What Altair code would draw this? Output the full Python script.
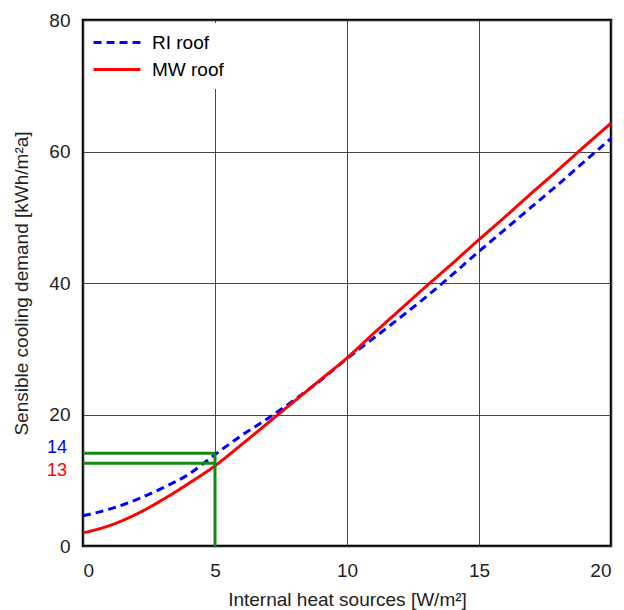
import altair as alt
import pandas as pd

x_vals = list(range(0, 21))
ri_roof = [4.6, 5.6, 7.0, 8.8, 10.9, 13.9, 16.8, 19.4, 22.2, 25.2, 28.5,
           31.6, 34.7, 37.9, 41.3, 44.8, 48.2, 51.6, 55.0, 58.5, 62.0]
mw_roof = [2.0, 3.1, 4.8, 7.0, 9.5, 12.2, 15.4, 18.7, 22.0, 25.3, 28.6,
           32.3, 35.9, 39.5, 43.0, 46.6, 50.1, 53.7, 57.2, 60.8, 64.3]
series = ["RI roof", "MW roof"]
colors = ["#0000ff", "#ff0000"]

marker_x = 5
marker_vals = [14.1, 12.6]
marker_labels = ["14", "13"]

rows = []
for name, vals in zip(series, [ri_roof, mw_roof]):
    for xv, yv in zip(x_vals, vals):
        rows.append({"x": xv, "y": yv, "series": name})
df = pd.DataFrame(rows)

font = "Liberation Sans"
fs = 19

xs = alt.Scale(domain=[0, 20], nice=False)
ys = alt.Scale(domain=[0, 80], nice=False)

lines = alt.Chart(df).mark_line(strokeWidth=3, interpolate="monotone").encode(
    x=alt.X("x:Q", scale=xs, title="Internal heat sources [W/m²]",
            axis=alt.Axis(values=[0, 5, 10, 15, 20])),
    y=alt.Y("y:Q", scale=ys, title="Sensible cooling demand [kWh/m²a]",
            axis=alt.Axis(values=[0, 20, 40, 60, 80])),
    color=alt.Color("series:N", scale=alt.Scale(domain=series, range=colors),
                    legend=alt.Legend(title=None, orient="top-left", offset=3,
                                      fillColor="white", padding=6,
                                      symbolType="stroke", symbolSize=2200,
                                      symbolStrokeWidth=3, labelFontSize=fs,
                                      labelFont=font, labelColor="black",
                                      clipHeight=27, rowPadding=0, labelOffset=10)),
    strokeDash=alt.StrokeDash("series:N",
                              scale=alt.Scale(domain=series, range=[[8, 5], [1, 0]]),
                              legend=alt.Legend(title=None, orient="top-left")),
)

hdf = pd.DataFrame({"x0": [0, 0], "x1": [marker_x, marker_x], "y": marker_vals})
hrules = alt.Chart(hdf).mark_rule(color="#138a13", strokeWidth=3).encode(
    x="x0:Q", x2="x1:Q", y="y:Q")
vdf = pd.DataFrame({"x": [marker_x], "y0": [0], "y1": [marker_vals[0]]})
vrule = alt.Chart(vdf).mark_rule(color="#138a13", strokeWidth=3).encode(
    x="x:Q", y="y0:Q", y2="y1:Q")

ldf = pd.DataFrame({"x": [0, 0], "y": marker_vals, "label": marker_labels,
                    "series": series})
lab1 = alt.Chart(ldf.iloc[[0]]).mark_text(align="right", dx=-16, dy=-5, fontSize=18,
                                           font=font, color="#0000ff", clip=False).encode(
    x="x:Q", y="y:Q", text="label:N")
lab2 = alt.Chart(ldf.iloc[[1]]).mark_text(align="right", dx=-16, dy=8, fontSize=18,
                                           font=font, color="#ff0000", clip=False).encode(
    x="x:Q", y="y:Q", text="label:N")

chart = alt.layer(lines, hrules, vrule, lab1, lab2).properties(
    width=528, height=526,
    autosize=alt.AutoSizeParams(type="none"),
    padding={"left": 75, "top": 12, "right": 5, "bottom": 64},
).configure_view(stroke="black", strokeWidth=2.5).configure_axis(
    grid=True, gridColor="#333333", gridWidth=1, gridOpacity=0.9,
    domain=False, ticks=False,
    labelFont=font, labelFontSize=fs, labelColor="#222222",
    titleFont=font, titleFontSize=fs, titleColor="#222222", titleFontWeight="normal",
).configure_axisY(labelPadding=13, titlePadding=17).configure_axisX(
    labelPadding=15, titlePadding=10)

chart.save("out.html", embed_options={"renderer": "svg", "actions": False})
